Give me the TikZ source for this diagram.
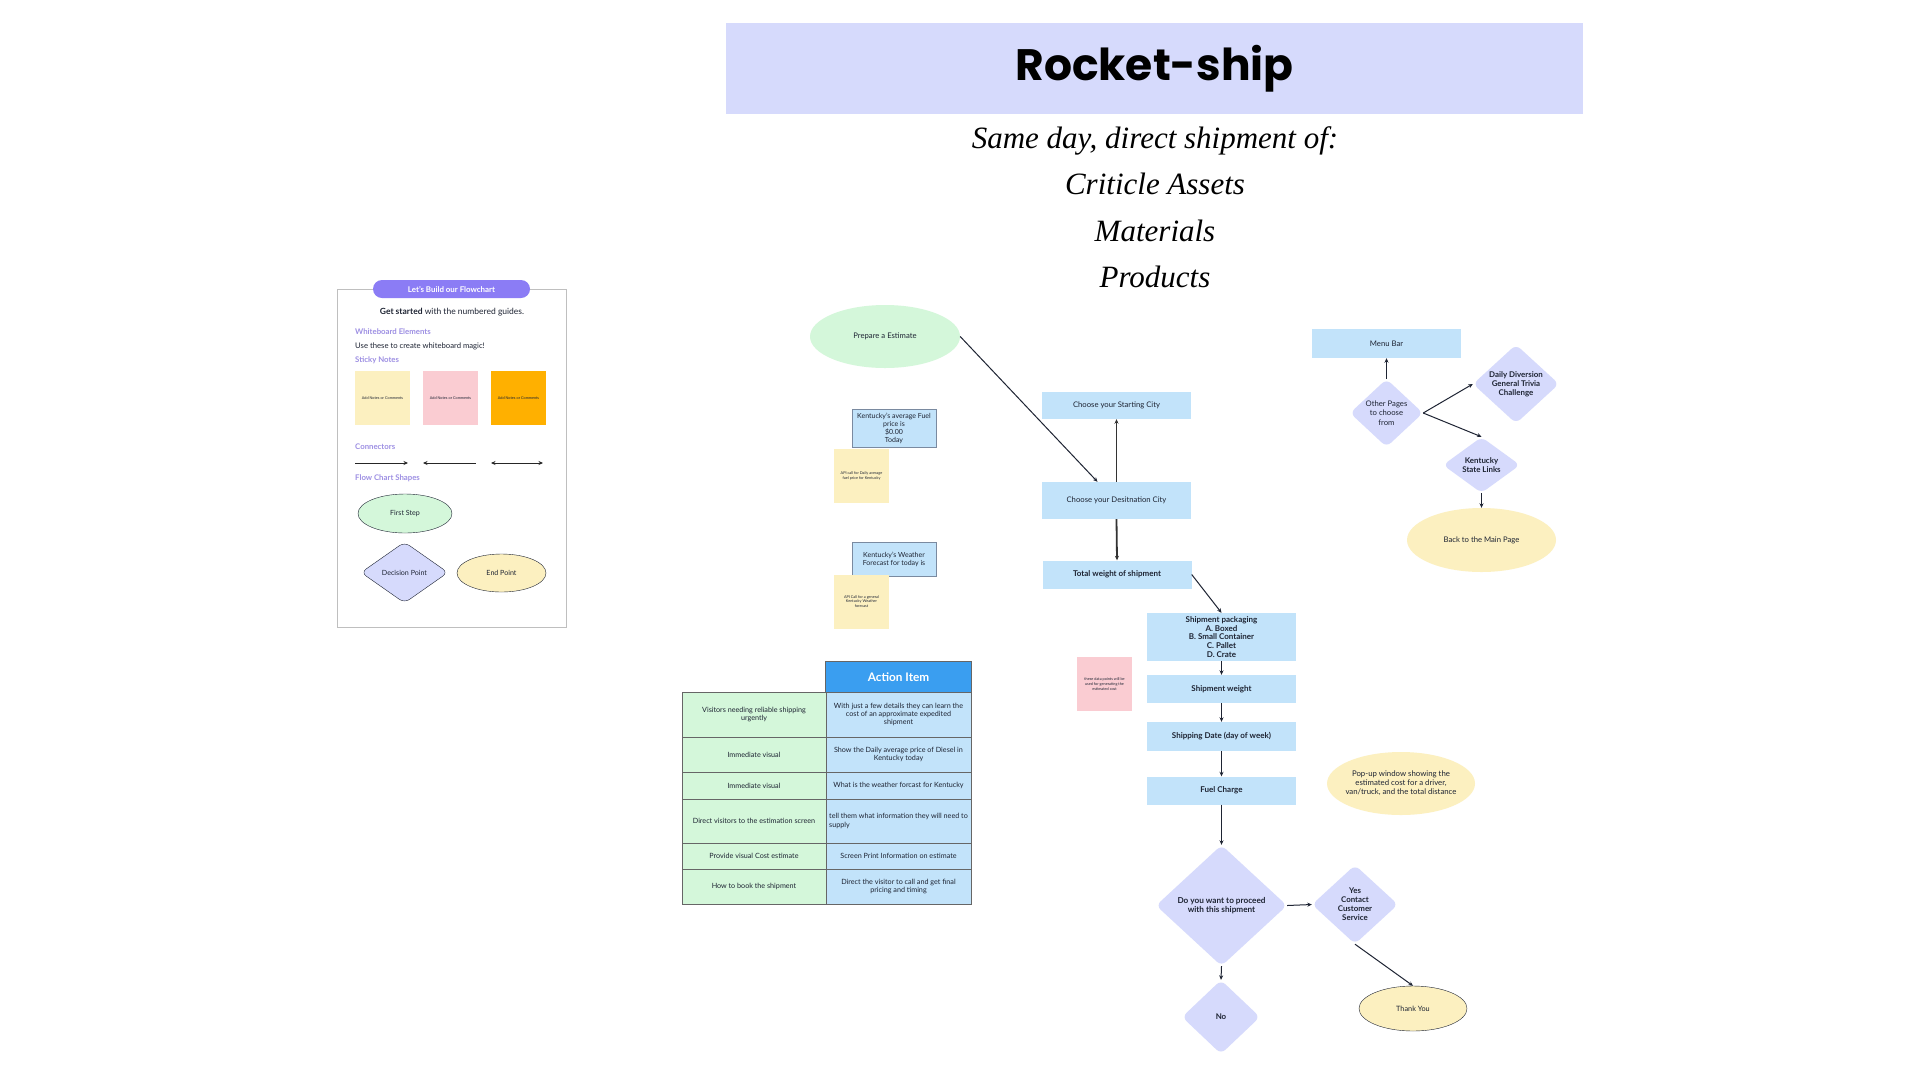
\documentclass[tikz,border=0pt]{standalone}
\usepackage{fontspec}
\setmainfont{Lato}
\newfontfamily\titlefont{Poppins}
\newfontfamily\subfont{Liberation Serif}
\usetikzlibrary{positioning,shapes.geometric,arrows.meta}

\definecolor{lavender}{HTML}{D6DAFC}
\definecolor{boxblue}{HTML}{C2E3FA}
\definecolor{mint}{HTML}{D4F7DA}
\definecolor{notey}{HTML}{FCF0C0}
\definecolor{notep}{HTML}{FACCD2}
\definecolor{noteo}{HTML}{FFB000}
\definecolor{headblue}{HTML}{3A9EF0}
\definecolor{pill}{HTML}{8B7CF5}
\definecolor{heading}{HTML}{9D8FE3}
\definecolor{ink}{HTML}{1E2433}
\definecolor{rim}{HTML}{7A8AA0}

\tikzset{
  box/.style={rectangle,fill=boxblue,minimum width=149pt,inner sep=1pt,
    align=center,text=ink,font=\fontsize{7.7}{8.7}\selectfont},
  bbox/.style={box,font=\fontsize{8}{8.7}\selectfont\bfseries},
  infobox/.style={rectangle,draw=rim,fill=boxblue,minimum width=84pt,
    inner sep=1pt,align=center,text=ink,font=\fontsize{7}{8}\selectfont},
  sticky/.style={rectangle,minimum width=55pt,minimum height=54pt,
    inner sep=0pt,align=center,text=ink,font=\fontsize{3.8}{4.8}\selectfont},
  decision/.style={diamond,fill=lavender,rounded corners=6pt,inner sep=0pt,
    align=center,text=ink,font=\fontsize{7.9}{9}\selectfont\bfseries},
  oval/.style={ellipse,inner sep=0pt,align=center,text=ink,
    font=\fontsize{7.7}{9}\selectfont},
  cell/.style={rectangle,draw=gray!80!black,line width=0.8pt,outer sep=0pt,
    minimum width=144pt,inner sep=2pt,align=center,text=ink,
    font=\fontsize{7.2}{8.4}\selectfont},
  label/.style={anchor=west,inner sep=0pt,text=ink,font=\fontsize{7.7}{9}\selectfont},
  guidehead/.style={label,text=heading,font=\fontsize{7.8}{9}\selectfont\bfseries},
  flow/.style={->,draw=ink,line width=1pt},
  thick flow/.style={->,draw=gray!40!black,line width=1.8pt}
}

\begin{document}
\begin{tikzpicture}[x=1pt,y=-1pt,>={Stealth[length=4.5pt,width=4pt]}]
  \fill[white] (0,0) rectangle (1920,1080);
  \useasboundingbox (0,0) rectangle (1920,1080);

  % title
  \node[fill=lavender,minimum width=857pt,minimum height=91pt,
    font=\fontsize{44}{50}\selectfont\titlefont\bfseries] (title) at (1154.5,68.5) {Rocket-ship};
  \node[font=\fontsize{31}{46.5}\selectfont\subfont\itshape,align=center]
    (subtitle) at (1155,207.5) {Same day, direct shipment of:\\Criticle Assets\\Materials\\Products};

  % guide panel
  \draw[gray!50,line width=0.8pt] (337,289) rectangle (566,627);
  \node[fill=pill,rounded corners=9pt,minimum width=157pt,minimum height=18pt,
    text=white,font=\fontsize{7.9}{9}\selectfont\bfseries] (guide) at (451.5,289) {Let's Build our Flowchart};
  \node[font=\fontsize{8.5}{10}\selectfont,text=ink] (started) at (452,312)
    {\textbf{Get started} with the numbered guides.};
  \node[guidehead] (wbe) at (355,332) {Whiteboard Elements};
  \node[label] (magic) at (355,346) {Use these to create whiteboard magic!};
  \node[guidehead] (stickyhead) at (355,360) {Sticky Notes};
  \node[sticky,fill=notey] (s1) at (382.5,398) {Add Notes or Comments};
  \node[sticky,fill=notep] (s2) at (450.5,398) {Add Notes or Comments};
  \node[sticky,fill=noteo] (s3) at (518.5,398) {Add Notes or Comments};
  \node[guidehead] (conhead) at (355,447) {Connectors};
  \coordinate (c1a) at (355,463); \coordinate (c1b) at (408,463);
  \coordinate (c2a) at (423,463); \coordinate (c2b) at (476,463);
  \coordinate (c3a) at (491,463); \coordinate (c3b) at (543,463);
  \draw[->,draw=gray!30!black,line width=0.9pt] (c1a) -- (c1b);
  \draw[<-,draw=gray!30!black,line width=0.9pt] (c2a) -- (c2b);
  \draw[<->,draw=gray!30!black,line width=0.9pt] (c3a) -- (c3b);
  \node[guidehead] (shapehead) at (355,478) {Flow Chart Shapes};
  \node[oval,draw=ink,fill=mint,minimum width=94pt,minimum height=39pt,
    font=\fontsize{7.1}{8}\selectfont] (first) at (405,513.5) {First Step};
  \node[decision,draw=ink,minimum width=87pt,minimum height=61pt,
    font=\fontsize{7.1}{8}\selectfont] (decpoint) at (404.5,572.5) {Decision Point};
  \node[oval,draw=ink,fill=notey,minimum width=89pt,minimum height=38pt,
    font=\fontsize{7.1}{8}\selectfont] (endpoint) at (501.5,573) {End Point};

  % estimate side
  \node[oval,fill=mint,minimum width=150pt,minimum height=63pt] (estimate) at (885,336.5) {Prepare a Estimate};
  \node[infobox,minimum height=38pt] (fuelprice) at (894,428)
    {Kentucky's average Fuel\\price is\\\$0.00\\Today};
  \node[sticky,fill=notey] (fuelnote) at (861.5,476) {API call for Daily average\\fuel price for Kentucky};
  \node[infobox,minimum height=34pt] (weather) at (894,559) {Kentucky's Weather\\Forecast for today is};
  \node[sticky,fill=notey] (weathernote) at (861.5,601.5) {API Call for a general\\Kentucky Weather\\forecast};

  % main flow
  \node[box,minimum height=27pt] (start) at (1116.5,405.5) {Choose your Starting City};
  \node[box,minimum height=37pt] (dest) at (1116.5,500.5) {Choose your Desitnation City};
  \node[bbox,minimum height=28pt] (total) at (1117,574.5) {Total weight of shipment};
  \node[bbox,minimum height=48pt] (pack) at (1221.5,637)
    {Shipment packaging\\A. Boxed\\B. Small Container\\C. Pallet\\D. Crate};
  \node[bbox,minimum height=28pt] (weight) at (1221.5,689) {Shipment weight};
  \node[bbox,minimum height=29pt] (date) at (1221.5,736.5) {Shipping Date (day of week)};
  \node[bbox,minimum height=28pt] (fuel) at (1221.5,790.5) {Fuel Charge};
  \node[sticky,fill=notep] (datanote) at (1104.5,684)
    {these data points will be\\used for generating the\\estimated cost};
  \node[oval,fill=notey,minimum width=148pt,minimum height=63pt,inner xsep=-10pt,
    font=\fontsize{7.8}{9}\selectfont] (popup) at (1401,783.5)
    {Pop-up window showing the\\estimated cost for a driver,\\van/truck, and the total distance};
  \node[decision,minimum width=131pt,minimum height=121pt,
    font=\fontsize{8.2}{9.2}\selectfont\bfseries] (proceed) at (1221.5,905.5)
    {Do you want to proceed\\with this shipment};
  \node[decision,minimum width=86pt,minimum height=79pt] (yes) at (1355,904.5)
    {Yes\\Contact\\Customer\\Service};
  \node[decision,minimum width=78pt,minimum height=74pt] (no) at (1221,1017) {No};
  \node[oval,draw=ink,fill=notey,minimum width=108pt,minimum height=45pt,
    font=\fontsize{7.3}{8}\selectfont] (thanks) at (1413,1008.5) {Thank You};

  \draw[flow] (estimate.east) -- ([xshift=-19pt]dest.north);
  \draw[thick flow] (dest.north) -- (start.south);
  \draw[thick flow] (dest.south) -- (total.north);
  \draw[flow] (total.east) -- (pack.north);
  \draw[flow] (pack.south) -- (weight.north);
  \draw[flow] (weight.south) -- (date.north);
  \draw[flow] (date.south) -- (fuel.north);
  \draw[flow] (fuel.south) -- (proceed.north);
  \draw[flow] (proceed.east) -- (yes.west);
  \draw[flow] (proceed.south) -- (no.north);
  \draw[flow] (yes.south) -- (thanks.north);

  % other pages
  \node[box,minimum height=29pt] (menu) at (1386.5,343.5) {Menu Bar};
  \node[decision,minimum width=73pt,minimum height=68pt,
    font=\fontsize{7.7}{9.5}\selectfont] (other) at (1386.5,413) {Other Pages\\to choose\\from};
  \node[decision,minimum width=86pt,minimum height=62pt] (daily) at (1516,384)
    {Daily Diversion\\General Trivia\\Challenge};
  \node[decision,minimum width=77pt,minimum height=56pt] (kentucky) at (1481.5,465)
    {Kentucky\\State Links};
  \node[oval,fill=notey,minimum width=149pt,minimum height=64pt] (back) at (1481.5,540) {Back to the Main Page};

  \draw[flow] (other.north) -- (menu.south);
  \draw[flow] (other.east) -- (daily.west);
  \draw[flow] (other.east) -- (kentucky.north);
  \draw[flow] (kentucky.south) -- (back.north);

  % action table
  \node[rectangle,fill=headblue,minimum width=145pt,minimum height=30pt,text=white,
    font=\fontsize{11.8}{13}\selectfont\bfseries] (head) at (898.5,677) {Action Item};
  \node[cell,fill=mint,minimum height=45pt,anchor=north west] (l1) at (682,692)
    {Visitors needing reliable shipping\\urgently};
  \node[cell,fill=mint,minimum height=35pt] (l2) [below=0pt of l1] {Immediate visual};
  \node[cell,fill=mint,minimum height=27pt] (l3) [below=0pt of l2] {Immediate visual};
  \node[cell,fill=mint,minimum height=44pt] (l4) [below=0pt of l3] {Direct visitors to the estimation screen};
  \node[cell,fill=mint,minimum height=26pt] (l5) [below=0pt of l4] {Provide visual Cost estimate};
  \node[cell,fill=mint,minimum height=35pt] (l6) [below=0pt of l5] {How to book the shipment};
  \node[cell,fill=boxblue,minimum width=145pt,minimum height=45pt] (r1) [right=0pt of l1]
    {With just a few details they can learn the\\cost of an approximate expedited\\shipment};
  \node[cell,fill=boxblue,minimum width=145pt,minimum height=35pt] (r2) [right=0pt of l2]
    {Show the Daily average price of Diesel in\\Kentucky today};
  \node[cell,fill=boxblue,minimum width=145pt,minimum height=27pt] (r3) [right=0pt of l3]
    {What is the weather forcast for Kentucky};
  \node[cell,fill=boxblue,minimum width=145pt,minimum height=44pt,align=left] (r4) [right=0pt of l4]
    {tell them what information they will need to\\supply};
  \node[cell,fill=boxblue,minimum width=145pt,minimum height=26pt] (r5) [right=0pt of l5]
    {Screen Print Information on estimate};
  \node[cell,fill=boxblue,minimum width=145pt,minimum height=35pt] (r6) [right=0pt of l6]
    {Direct the visitor to call and get final\\pricing and timing};
  \draw[gray!80!black,line width=0.8pt] (head.north west) rectangle (head.south east);

\end{tikzpicture}
\end{document}
